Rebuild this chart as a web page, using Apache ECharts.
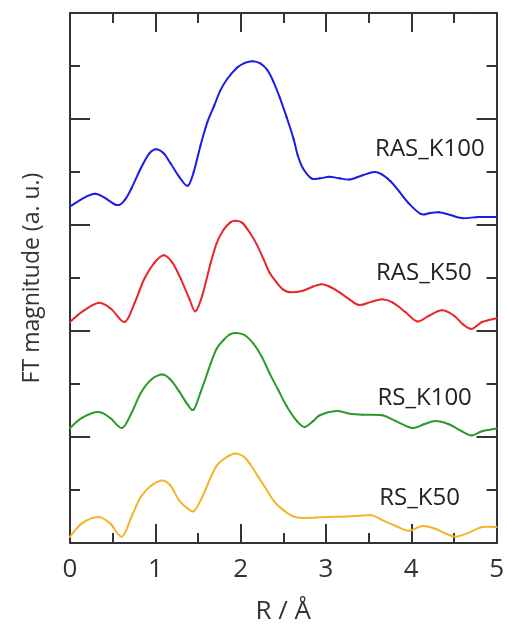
<!DOCTYPE html>
<html>
<head>
<meta charset="utf-8">
<script src="https://cdn.jsdelivr.net/npm/echarts@6/dist/echarts.min.js"></script>
<style>
  html, body { margin: 0; padding: 0; background: #fff; }
  #chart { width: 507px; height: 630px; }
</style>
</head>
<body>
<div id="chart"></div>
<script>
// R values (Å) and FT magnitudes, one pair of arrays per curve (vertical offset included)
const rasK100R = [0, 0.29, 0.54, 0.64, 0.72, 0.83, 0.93, 1.01, 1.10, 1.18, 1.28, 1.38, 1.45, 1.53, 1.61, 1.69, 1.76, 1.84, 1.96, 2.05, 2.14, 2.23, 2.31, 2.38, 2.46, 2.54, 2.62, 2.67, 2.73, 2.83, 2.93, 3.04, 3.16, 3.28, 3.43, 3.57, 3.66, 3.76, 3.86, 3.97, 4.11, 4.21, 4.32, 4.46, 4.59, 4.79, 5.0];
const rasK100Y = [6.35, 6.59, 6.38, 6.47, 6.69, 7.07, 7.35, 7.43, 7.35, 7.16, 6.91, 6.74, 7.00, 7.50, 7.94, 8.25, 8.53, 8.75, 8.97, 9.06, 9.09, 9.05, 8.93, 8.72, 8.40, 8.03, 7.63, 7.31, 7.07, 6.88, 6.88, 6.91, 6.88, 6.86, 6.94, 7.00, 6.95, 6.82, 6.63, 6.41, 6.21, 6.22, 6.24, 6.19, 6.13, 6.15, 6.15];

const rasK50R = [0, 0.14, 0.33, 0.48, 0.64, 0.76, 0.87, 0.99, 1.10, 1.20, 1.30, 1.40, 1.47, 1.55, 1.65, 1.72, 1.80, 1.88, 1.94, 2.02, 2.11, 2.19, 2.27, 2.34, 2.42, 2.50, 2.58, 2.73, 2.85, 2.95, 3.04, 3.16, 3.28, 3.39, 3.53, 3.66, 3.78, 3.93, 4.07, 4.21, 4.36, 4.50, 4.61, 4.71, 4.83, 5.0];
const rasK50Y = [4.17, 4.36, 4.53, 4.42, 4.17, 4.54, 4.98, 5.29, 5.43, 5.29, 4.98, 4.60, 4.37, 4.67, 5.29, 5.66, 5.91, 6.05, 6.08, 6.04, 5.85, 5.63, 5.35, 5.10, 4.92, 4.78, 4.73, 4.76, 4.84, 4.88, 4.84, 4.73, 4.59, 4.49, 4.55, 4.60, 4.54, 4.36, 4.18, 4.29, 4.39, 4.29, 4.12, 4.04, 4.17, 4.24];

const rsK100R = [0, 0.14, 0.33, 0.47, 0.61, 0.72, 0.83, 0.95, 1.085, 1.18, 1.28, 1.38, 1.45, 1.53, 1.65, 1.72, 1.80, 1.88, 1.96, 2.05, 2.15, 2.25, 2.34, 2.44, 2.54, 2.66, 2.75, 2.85, 2.93, 3.12, 3.28, 3.43, 3.66, 3.82, 4.01, 4.15, 4.28, 4.44, 4.59, 4.71, 4.83, 5.0];
const rsK100Y = [2.17, 2.36, 2.47, 2.36, 2.17, 2.45, 2.83, 3.08, 3.18, 3.08, 2.86, 2.61, 2.52, 2.84, 3.39, 3.67, 3.83, 3.94, 3.96, 3.92, 3.76, 3.51, 3.20, 2.89, 2.58, 2.30, 2.19, 2.30, 2.41, 2.49, 2.44, 2.42, 2.41, 2.30, 2.17, 2.24, 2.30, 2.24, 2.11, 2.03, 2.11, 2.16];

const rsK50R = [0, 0.14, 0.33, 0.47, 0.61, 0.72, 0.83, 0.95, 1.085, 1.18, 1.28, 1.38, 1.45, 1.53, 1.65, 1.72, 1.80, 1.88, 1.94, 2.03, 2.11, 2.21, 2.31, 2.40, 2.50, 2.62, 2.73, 2.89, 3.04, 3.24, 3.43, 3.55, 3.66, 3.82, 3.97, 4.13, 4.28, 4.40, 4.52, 4.67, 4.83, 5.0];
const rsK50Y = [0.12, 0.37, 0.49, 0.37, 0.12, 0.49, 0.87, 1.08, 1.18, 1.08, 0.80, 0.65, 0.60, 0.80, 1.24, 1.46, 1.58, 1.66, 1.69, 1.64, 1.49, 1.24, 0.99, 0.77, 0.62, 0.50, 0.47, 0.48, 0.49, 0.50, 0.52, 0.52, 0.43, 0.32, 0.23, 0.32, 0.27, 0.18, 0.12, 0.19, 0.30, 0.30];

const seriesNames = ['RAS_K100', 'RAS_K50', 'RS_K100', 'RS_K50'];
const seriesColors = ['#1c1ce6', '#e8262b', '#2a9a2a', '#f4b42c'];
// where each curve's name sits (right edge, vertical centre) in data units
const labelR = [4.86, 4.71, 4.71, 4.57];
const labelY = [7.44, 5.10, 2.73, 0.85];

const xTicks = ['0', '1', '2', '3', '4', '5'];

const curves = [
  [rasK100R, rasK100Y],
  [rasK50R, rasK50Y],
  [rsK100R, rsK100Y],
  [rsK50R, rsK50Y]
];

const axisColor = '#333';
const fontFamily = '"Open Sans", "Noto Sans", sans-serif';

const chart = echarts.init(document.getElementById('chart'));

const frameX = (pos, showLabels) => ({
  type: 'value',
  position: pos,
  min: 0,
  max: 5,
  interval: 1,
  axisLine: { show: true, onZero: false, lineStyle: { color: axisColor, width: 2 } },
  axisTick: { show: true, inside: true, length: 19, lineStyle: { color: axisColor, width: 2 } },
  minorTick: { show: true, splitNumber: 2, length: 10, lineStyle: { color: axisColor, width: 2 } },
  splitLine: { show: false },
  axisLabel: {
    show: showLabels,
    color: axisColor,
    fontSize: 26,
    fontFamily: fontFamily,
    margin: 14,
    formatter: (v) => xTicks[Math.round(v)]
  }
});

const frameY = (pos) => ({
  type: 'value',
  position: pos,
  min: 0,
  max: 10,
  interval: 2,
  axisLine: { show: true, onZero: false, lineStyle: { color: axisColor, width: 2 } },
  axisTick: { show: true, inside: true, length: 20, lineStyle: { color: axisColor, width: 2 } },
  minorTick: { show: true, splitNumber: 2, length: 10, lineStyle: { color: axisColor, width: 2 } },
  splitLine: { show: false },
  axisLabel: { show: false }
});

const xBottom = frameX('bottom', true);
xBottom.name = 'R / Å';
xBottom.nameLocation = 'middle';
xBottom.nameGap = 56;
xBottom.nameTextStyle = { color: axisColor, fontSize: 26, fontFamily: fontFamily };

const yLeft = frameY('left');
yLeft.name = 'FT magnitude (a. u.)';
yLeft.nameLocation = 'middle';
yLeft.nameGap = 26;
yLeft.nameTextStyle = { color: axisColor, fontSize: 23, fontFamily: fontFamily };

// each data item draws the spline piece from its point to the next one
// (Catmull-Rom through the read points, mapped with api.coord)
function curveSeries(rs, ys, name, color) {
  const last = rs.length - 1;
  const at = (api, k) => {
    const j = Math.max(0, Math.min(last, k));
    return api.coord([rs[j], ys[j]]);
  };
  return {
    name: name,
    type: 'custom',
    coordinateSystem: 'cartesian2d',
    silent: true,
    data: rs.map((r, j) => [r, ys[j]]),
    encode: { x: 0, y: 1 },
    renderItem: (params, api) => {
      const i = params.dataIndex;
      if (i >= last) return null;
      const p0 = at(api, i - 1);
      const p1 = at(api, i);
      const p2 = at(api, i + 1);
      const p3 = at(api, i + 2);
      return {
        type: 'bezierCurve',
        shape: {
          x1: p1[0], y1: p1[1],
          x2: p2[0], y2: p2[1],
          cpx1: p1[0] + (p2[0] - p0[0]) / 6,
          cpy1: p1[1] + (p2[1] - p0[1]) / 6,
          cpx2: p2[0] - (p3[0] - p1[0]) / 6,
          cpy2: p2[1] - (p3[1] - p1[1]) / 6
        },
        style: { stroke: color, lineWidth: 2, fill: 'none', lineCap: 'round' }
      };
    }
  };
}

const option = {
  backgroundColor: '#fff',
  animation: false,
  grid: { left: 70, right: 7, top: 13, bottom: 82 },
  xAxis: [xBottom, frameX('top', false)],
  yAxis: [yLeft, frameY('right')],
  series: curves.map((c, i) => curveSeries(c[0], c[1], seriesNames[i], seriesColors[i])).concat([{
    name: 'names',
    type: 'scatter',
    silent: true,
    symbolSize: 0,
    itemStyle: { opacity: 1 },
    data: seriesNames.map((n, i) => [labelR[i], labelY[i], n]),
    label: {
      show: true,
      position: 'left',
      distance: 0,
      color: '#222',
      opacity: 1,
      fontSize: 24,
      fontFamily: fontFamily,
      formatter: (p) => p.value[2]
    }
  }])
};

chart.setOption(option);
</script>
</body>
</html>
